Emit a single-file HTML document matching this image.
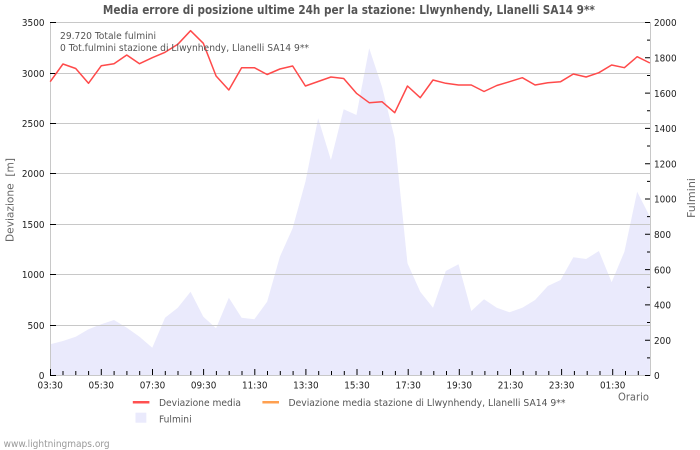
<!DOCTYPE html>
<html><head><meta charset="utf-8"><style>
html,body{margin:0;padding:0;background:#fff;}
svg{display:block;}
text{font-family:"DejaVu Sans Condensed","DejaVu Sans","Liberation Sans",sans-serif;font-stretch:condensed;}
</style></head><body>
<svg width="700" height="450" viewBox="0 0 700 450" xmlns="http://www.w3.org/2000/svg">
<rect width="700" height="450" fill="#fff"/>
<!-- area -->
<polygon fill="#eaeafc" points="50.2,375.5 50.2,344.3 62.96,341 75.72,336.7 88.48,329.3 101.24,324.3 114,320 126.76,327.7 139.52,336.7 152.28,347.7 165.04,317.7 177.8,307.7 190.56,291.7 203.32,316.7 216.08,328.3 228.84,297.7 241.6,317.7 254.36,319.3 267.12,301.7 279.88,256.7 292.64,228.3 305.4,181.7 318.16,118.3 330.92,160 343.68,109.3 356.44,115 369.2,48.3 381.96,86.7 394.72,138.3 407.48,263.3 420.24,291.7 433,307.7 445.76,271 458.52,264.3 471.28,311 484.04,299.3 496.8,307.7 509.56,312.3 522.32,307.7 535.08,300 547.84,286 560.6,280 573.36,257.3 586.12,259 598.88,251 611.64,282.3 624.4,251.7 637.16,191.7 649.92,216.7 649.92,375.5"/>
<!-- grid -->
<g stroke="#c8c8c8" stroke-width="1" fill="none">
<path d="M50 22.5H650M50 73.5H650M50 123.5H650M50 173.5H650M50 224.5H650M50 274.5H650M50 325.5H650M50 375.5H650"/>
<path d="M50.5 22V376M650.5 22V376"/>
</g>
<!-- left ticks -->
<path stroke="#000" stroke-width="1" d="M50 22.5h6M50 73.5h6M50 123.5h6M50 173.5h6M50 224.5h6M50 274.5h6M50 325.5h6M50 375.5h6"/>
<!-- right ticks -->
<path stroke="#000" stroke-width="1" d="M645 375.5h5M647 357.85h3M645 340.2h5M647 322.55h3M645 304.9h5M647 287.25h3M645 269.6h5M647 251.95h3M645 234.3h5M647 216.65h3M645 199h5M647 181.35h3M645 163.7h5M647 146.05h3M645 128.4h5M647 110.75h3M645 93.1h5M647 75.45h3M645 57.8h5M647 40.15h3M645 22.5h5"/>
<!-- x ticks -->
<path stroke="#000" stroke-width="1" d="M50.5 375v-6M63 375v-4M75.8 375v-4M88.6 375v-4M101.3 375v-6M114.1 375v-4M126.9 375v-4M139.7 375v-4M152.5 375v-6M165.3 375v-4M178 375v-4M190.8 375v-4M203.6 375v-6M216.4 375v-4M229.2 375v-4M242 375v-4M254.8 375v-6M267.5 375v-4M280.3 375v-4M293.1 375v-4M305.9 375v-6M318.7 375v-4M331.5 375v-4M344.3 375v-4M357 375v-6M369.8 375v-4M382.6 375v-4M395.4 375v-4M408.2 375v-6M421 375v-4M433.8 375v-4M446.5 375v-4M459.3 375v-6M472.1 375v-4M484.9 375v-4M497.7 375v-4M510.5 375v-6M523.2 375v-4M536 375v-4M548.8 375v-4M561.6 375v-6M574.4 375v-4M587.2 375v-4M600 375v-4M612.7 375v-6M625.5 375v-4M638.3 375v-4"/>
<!-- red line -->
<polyline fill="none" stroke="#ff4a4a" stroke-width="1.5" stroke-linejoin="round" points="50.2,81.7 62.96,64 75.72,68.5 88.48,83.3 101.24,65.8 114,63.7 126.76,55 139.52,63.7 152.28,57.7 165.04,52.3 177.8,44.3 190.56,30.7 203.32,43.3 216.08,76 228.84,90 241.6,67.7 254.36,67.7 267.12,74.5 279.88,69 292.64,66 305.4,86 318.16,81.5 330.92,77 343.68,78.5 356.44,93.3 369.2,102.7 381.96,101.7 394.72,112.7 407.48,86 420.24,97.7 433,80 445.76,83.3 458.52,85 471.28,85 484.04,91.5 496.8,85.5 509.56,81.7 522.32,77.7 535.08,85 547.84,82.7 560.6,81.7 573.36,74 586.12,77 598.88,72.7 611.64,65 624.4,67.7 637.16,56.7 649.92,63"/>
<!-- title -->
<text x="348.9" y="14" text-anchor="middle" font-size="12" font-weight="bold" fill="#555" textLength="492" lengthAdjust="spacingAndGlyphs">Media errore di posizione ultime 24h per la stazione: Llwynhendy, Llanelli SA14 9**</text>
<!-- annotations -->
<text x="60" y="39" font-size="10" fill="#555" textLength="96" lengthAdjust="spacingAndGlyphs">29.720 Totale fulmini</text>
<text x="60" y="51" font-size="10" fill="#555" textLength="249" lengthAdjust="spacingAndGlyphs">0 Tot.fulmini stazione di Llwynhendy, Llanelli SA14 9**</text>
<!-- left tick labels -->
<g font-size="10" fill="#222" text-anchor="end">
<text x="44.5" y="26.2" textLength="22.6" lengthAdjust="spacingAndGlyphs">3500</text>
<text x="44.5" y="77.2" textLength="22.6" lengthAdjust="spacingAndGlyphs">3000</text>
<text x="44.5" y="127.2" textLength="22.6" lengthAdjust="spacingAndGlyphs">2500</text>
<text x="44.5" y="177.2" textLength="22.6" lengthAdjust="spacingAndGlyphs">2000</text>
<text x="44.5" y="228.2" textLength="22.6" lengthAdjust="spacingAndGlyphs">1500</text>
<text x="44.5" y="278.2" textLength="22.6" lengthAdjust="spacingAndGlyphs">1000</text>
<text x="44.5" y="329.2" textLength="17" lengthAdjust="spacingAndGlyphs">500</text>
<text x="44.5" y="379.2">0</text>
</g>
<!-- right tick labels -->
<g font-size="10" fill="#222">
<text x="654" y="26.2" textLength="22.6" lengthAdjust="spacingAndGlyphs">2000</text>
<text x="654" y="61.5" textLength="22.6" lengthAdjust="spacingAndGlyphs">1800</text>
<text x="654" y="96.8" textLength="22.6" lengthAdjust="spacingAndGlyphs">1600</text>
<text x="654" y="132.1" textLength="22.6" lengthAdjust="spacingAndGlyphs">1400</text>
<text x="654" y="167.4" textLength="22.6" lengthAdjust="spacingAndGlyphs">1200</text>
<text x="654" y="202.7" textLength="22.6" lengthAdjust="spacingAndGlyphs">1000</text>
<text x="654" y="238" textLength="17" lengthAdjust="spacingAndGlyphs">800</text>
<text x="654" y="273.3" textLength="17" lengthAdjust="spacingAndGlyphs">600</text>
<text x="654" y="308.6" textLength="17" lengthAdjust="spacingAndGlyphs">400</text>
<text x="654" y="343.9" textLength="17" lengthAdjust="spacingAndGlyphs">200</text>
<text x="654" y="379.2">0</text>
</g>
<!-- x labels -->
<g font-size="10" fill="#222" text-anchor="middle">
<text x="50.2" y="388.5" textLength="25.5" lengthAdjust="spacingAndGlyphs">03:30</text>
<text x="101.3" y="388.5" textLength="25.5" lengthAdjust="spacingAndGlyphs">05:30</text>
<text x="152.5" y="388.5" textLength="25.5" lengthAdjust="spacingAndGlyphs">07:30</text>
<text x="203.6" y="388.5" textLength="25.5" lengthAdjust="spacingAndGlyphs">09:30</text>
<text x="254.8" y="388.5" textLength="25.5" lengthAdjust="spacingAndGlyphs">11:30</text>
<text x="305.9" y="388.5" textLength="25.5" lengthAdjust="spacingAndGlyphs">13:30</text>
<text x="357" y="388.5" textLength="25.5" lengthAdjust="spacingAndGlyphs">15:30</text>
<text x="408.2" y="388.5" textLength="25.5" lengthAdjust="spacingAndGlyphs">17:30</text>
<text x="459.3" y="388.5" textLength="25.5" lengthAdjust="spacingAndGlyphs">19:30</text>
<text x="510.5" y="388.5" textLength="25.5" lengthAdjust="spacingAndGlyphs">21:30</text>
<text x="561.6" y="388.5" textLength="25.5" lengthAdjust="spacingAndGlyphs">23:30</text>
<text x="612.7" y="388.5" textLength="25.5" lengthAdjust="spacingAndGlyphs">01:30</text>
</g>
<!-- axis titles -->
<text transform="translate(13.5,200) rotate(-90)" text-anchor="middle" font-size="11" fill="#666" textLength="84" lengthAdjust="spacingAndGlyphs">Deviazione&#160; [m]</text>
<text transform="translate(695,198) rotate(-90)" text-anchor="middle" font-size="11" fill="#666" textLength="40" lengthAdjust="spacingAndGlyphs">Fulmini</text>
<text x="618" y="400.5" font-size="11" fill="#666" textLength="31" lengthAdjust="spacingAndGlyphs">Orario</text>
<!-- legend -->
<path d="M132.8 402.2H149.4" stroke="#ff5050" stroke-width="2.5"/>
<text x="159" y="406" font-size="10" fill="#555" textLength="82" lengthAdjust="spacingAndGlyphs">Deviazione media</text>
<path d="M262.4 402.2H279" stroke="#ffa050" stroke-width="2.5"/>
<text x="288.5" y="406" font-size="10" fill="#555" textLength="277" lengthAdjust="spacingAndGlyphs">Deviazione media stazione di Llwynhendy, Llanelli SA14 9**</text>
<rect x="135.5" y="412.7" width="10.8" height="10" fill="#eaeafc"/>
<text x="159" y="422.5" font-size="10" fill="#555" textLength="32.6" lengthAdjust="spacingAndGlyphs">Fulmini</text>
<!-- watermark -->
<text x="3.6" y="447" font-size="10" fill="#999" textLength="106" lengthAdjust="spacingAndGlyphs">www.lightningmaps.org</text>
</svg>
</body></html>
